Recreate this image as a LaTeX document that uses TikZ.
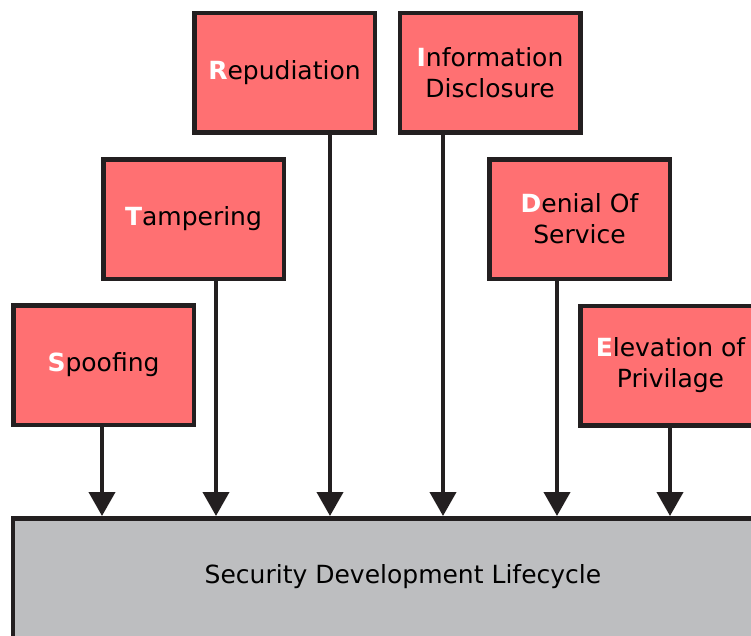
\documentclass[tikz,border=0pt]{standalone}
\usepackage{fontspec}
\setmainfont{DejaVu Sans}
\usetikzlibrary{arrows.meta}
\definecolor{threat}{HTML}{FF7072}
\definecolor{edge}{HTML}{231F20}
\definecolor{sdlgray}{HTML}{BDBEC0}
\tikzset{
  threatbox/.style={draw=edge, fill=threat, line width=4.5pt, inner sep=0pt,
    minimum width=180.5pt, minimum height=119.5pt, align=center,
    font=\fontsize{25}{31}\selectfont, text=black},
  sdlbox/.style={draw=edge, fill=sdlgray, line width=4.5pt, inner sep=0pt,
    minimum width=780pt, minimum height=140pt},
  sdllabel/.style={inner sep=0pt, font=\fontsize{25}{31}\selectfont, text=black},
  feed/.style={draw=edge, line width=4pt, -{Triangle[length=24pt,width=26pt]}}
}
\newcommand{\firstl}[1]{{\bfseries\color{white}#1}}
\begin{document}
\begin{tikzpicture}[x=1pt,y=-1pt]
\useasboundingbox (0,0) rectangle (751,635);
\clip (0,0) rectangle (751,635);
\node[sdlbox] (sdl) at (403,588.25) {};
\node[sdllabel] (sdltext) at (403,577) {Security Development Lifecycle};
\node[threatbox] (spoof) at (103.5,365) {\firstl{S}poofing};
\node[threatbox] (tamp) at (193.5,219) {\firstl{T}ampering};
\node[threatbox] (repud) at (284.5,72.5) {\firstl{R}epudiation};
\node[threatbox] (info) at (490,72.5) {\firstl{I}nformation\\Disclosure};
\node[threatbox] (dos) at (579.5,219) {\firstl{D}enial Of\\Service};
\node[threatbox] (elev) at (670.5,365.5) {\firstl{E}levation of\\Privilage};
\coordinate (a1) at (102,516);
\coordinate (a2) at (216,516);
\coordinate (a3) at (330,516);
\coordinate (a4) at (443,516);
\coordinate (a5) at (557,516);
\coordinate (a6) at (670,516);
\draw[feed] (spoof.south -| a1) -- (a1);
\draw[feed] (tamp.south -| a2) -- (a2);
\draw[feed] (repud.south -| a3) -- (a3);
\draw[feed] (info.south -| a4) -- (a4);
\draw[feed] (dos.south -| a5) -- (a5);
\draw[feed] (elev.south -| a6) -- (a6);
\end{tikzpicture}
\end{document}
